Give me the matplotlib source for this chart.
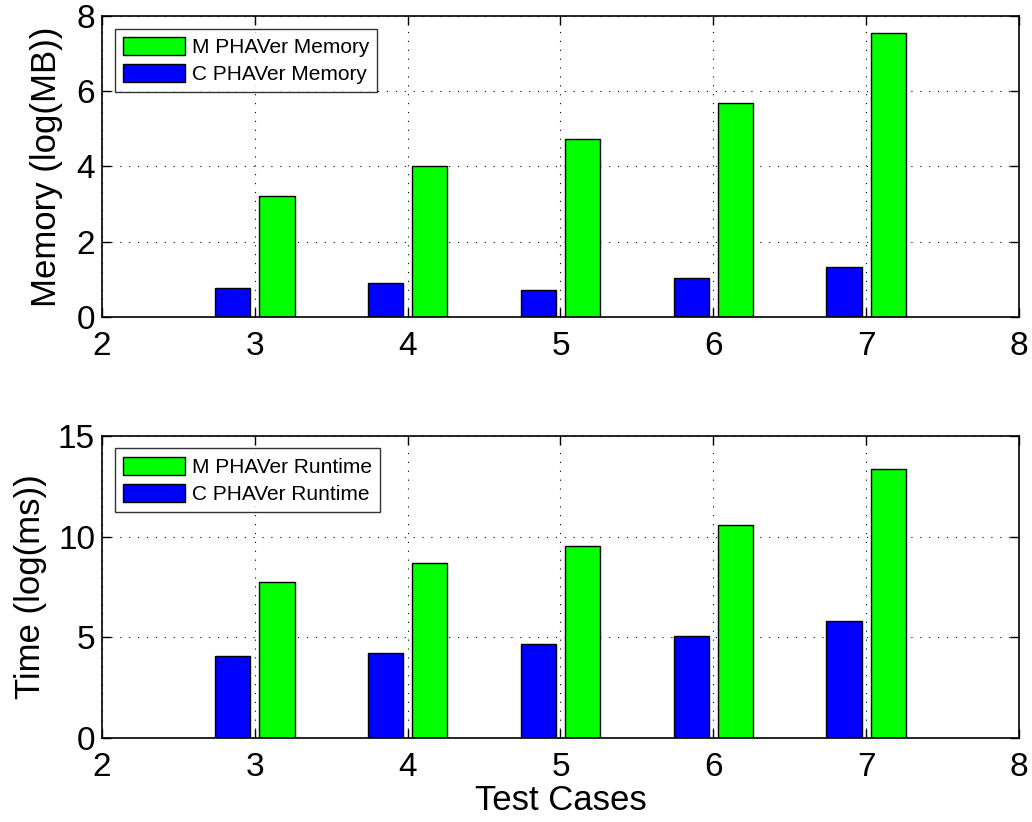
import matplotlib
matplotlib.use("Agg")
import matplotlib.pyplot as plt
import numpy as np

plt.rcParams['font.family'] = ['Liberation Sans', 'DejaVu Sans']

cases = [3, 4, 5, 6, 7]
m_memory = [3.22, 4.02, 4.73, 5.69, 7.54]
c_memory = [0.76, 0.90, 0.72, 1.04, 1.32]
m_runtime = [7.73, 8.67, 9.56, 10.60, 13.34]
c_runtime = [4.08, 4.23, 4.67, 5.07, 5.82]

offset = 0.145
width = 0.23


def style_axis(ax, ymax, ystep):
    ax.set_xlim(2, 8)
    ax.set_ylim(0, ymax)
    ax.set_xticks(range(2, 9))
    ax.set_yticks(np.arange(0, ymax + 0.1, ystep))
    ax.tick_params(direction='in', top=True, right=True, labelsize=24,
                   length=6.5, width=1)
    ax.tick_params(axis='x', pad=10)
    ax.tick_params(axis='y', pad=5)
    ax.grid(True, linestyle=(0, (1, 7)), color='black', linewidth=0.8)
    ax.set_axisbelow(True)
    for s in ax.spines.values():
        s.set_linewidth(1.2)


def draw_panel(ax, m_vals, c_vals, m_label, c_label):
    x = np.array(cases)
    gm = ax.bar(x + offset, m_vals, width, color='#00ff00',
                edgecolor='black', linewidth=1, label=m_label)
    gc = ax.bar(x - offset, c_vals, width, color='#0000ff',
                edgecolor='black', linewidth=1, label=c_label)
    leg = ax.legend(handles=[gm, gc], loc='upper left', fontsize=15,
                    frameon=True, fancybox=False, edgecolor='black',
                    borderaxespad=0.6, handlelength=3.0, handleheight=1.0,
                    handletextpad=0.3, labelspacing=0.3, borderpad=0.4)
    leg.get_frame().set_linewidth(1)


fig = plt.figure(figsize=(10.32, 8.22), dpi=100)
ax1 = fig.add_axes([102 / 1032, 1 - 317 / 822, 917 / 1032, 301 / 822])
ax2 = fig.add_axes([102 / 1032, 1 - 738 / 822, 917 / 1032, 302 / 822])

draw_panel(ax1, m_memory, c_memory, 'M PHAVer Memory', 'C PHAVer Memory')
style_axis(ax1, 8, 2)
ax1.set_ylabel('Memory (log(MB))', fontsize=25, labelpad=10)

draw_panel(ax2, m_runtime, c_runtime, 'M PHAVer Runtime', 'C PHAVer Runtime')
style_axis(ax2, 15, 5)
ax2.set_ylabel('Time (log(ms))', fontsize=25, labelpad=8)
ax2.set_xlabel('Test Cases', fontsize=25, labelpad=1)

fig.savefig('out.png', dpi=100)
